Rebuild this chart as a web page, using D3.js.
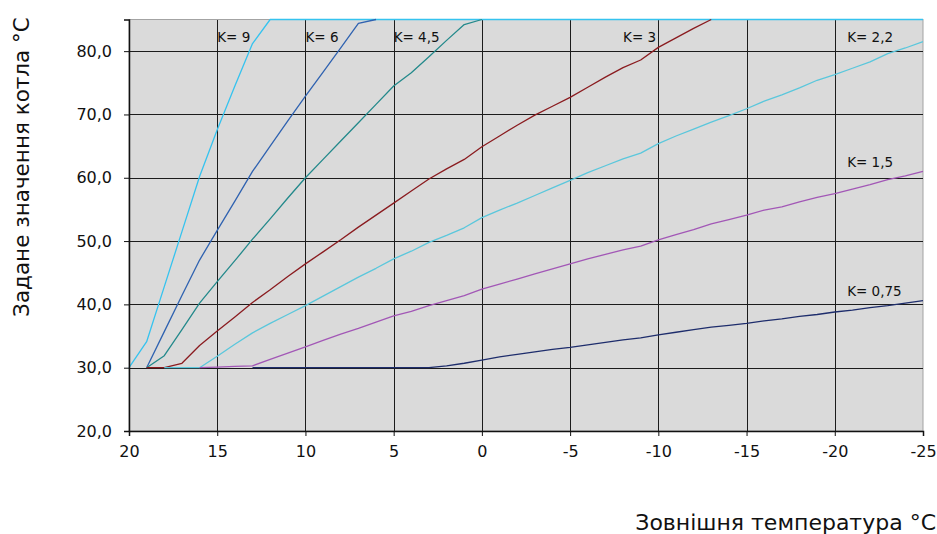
<!DOCTYPE html>
<html><head><meta charset="utf-8">
<script src="https://cdn.jsdelivr.net/npm/d3@7"></script>
<style>
html,body{margin:0;padding:0;background:#fff;}
svg{display:block;}
</style></head>
<body>
<svg id="c" width="937" height="534"></svg>
<script>
// Outdoor temperature (x) values, one per degree
const temps = d3.range(20, -26, -1); // 20 .. -25

// Series values (null = not drawn at that temperature)
const k9   = [30,34.1,42.8,51.5,60.2,67.6,74.5,81.2,85,85,85,85,85,85,85,85,85,85,85,85,85,85,85,85,85,85,85,85,85,85,85,85,85,85,85,85,85,85,85,85,85,85,85,85,85,85];
const k6   = [null,30,35.7,41.4,47,51.7,56.3,61,65,69,72.9,76.7,80.5,84.4,85];
const k45  = [null,30,31.9,36.0,40.2,43.6,46.9,50.3,53.5,56.8,60,62.9,65.8,68.7,71.6,74.5,76.6,79.1,81.7,84.2,85];
const k3   = [null,30,30,30.7,33.5,35.8,38.0,40.3,42.3,44.4,46.4,48.3,50.2,52.2,54.1,56.0,57.9,59.8,61.4,62.9,64.9,66.6,68.3,69.9,71.3,72.7,74.3,75.9,77.4,78.6,80.6,82.1,83.6,85];
const k22  = [null,null,30,30,30,31.8,33.7,35.5,37.0,38.4,39.8,41.3,42.8,44.3,45.7,47.2,48.4,49.8,50.9,52.1,53.7,54.9,56.0,57.2,58.4,59.6,60.8,61.9,63.0,63.9,65.4,66.6,67.7,68.8,69.8,70.9,72.1,73.1,74.2,75.4,76.3,77.3,78.3,79.6,80.5,81.5];
const k15  = [null,null,null,null,30,30.1,30.2,30.3,31.3,32.3,33.3,34.3,35.3,36.2,37.2,38.2,38.9,39.8,40.6,41.4,42.4,43.2,44.0,44.8,45.6,46.4,47.2,47.9,48.6,49.2,50.2,51.0,51.8,52.7,53.4,54.1,54.9,55.4,56.2,56.9,57.5,58.2,58.9,59.7,60.3,61.0];
const k075 = [null,null,null,null,null,null,null,30,30,30,30,30,30,30,30,30,30,30,30.3,30.7,31.2,31.7,32.1,32.5,32.9,33.2,33.6,34.0,34.4,34.7,35.2,35.6,36.0,36.4,36.7,37.0,37.4,37.7,38.1,38.4,38.8,39.1,39.5,39.8,40.2,40.6];

const seriesNames = ["K= 9","K= 6","K= 4,5","K= 3","K= 2,2","K= 1,5","K= 0,75"];
const seriesValues = [k9,k6,k45,k3,k22,k15,k075];
const seriesColors = ["#35c3ef","#2f62b0","#23898b","#8a1b1f","#5ac7dc","#a257b6","#1e2d6c"];

// Label anchors in data units (temperature, setpoint)
const labelTemps = [15,10,5,-8,-20.7,-20.7,-20.7];
const labelVals  = [81.4,81.4,81.4,81.4,81.4,61.7,41.3];

const xTicks = [20,15,10,5,0,-5,-10,-15,-20,-25];
const yTicks = [20,30,40,50,60,70,80];
const xTitle = "Зовнішня температура °С";
const yTitle = "Задане значення котла °С";

const svg = d3.select("#c");
const L = 129, R = 923, T = 19.5, B = 431;
const x = d3.scaleLinear().domain([20,-25]).range([L,R]);
const y = d3.scaleLinear().domain([20,85]).range([B,T]);

// plot background
svg.append("rect").attr("x",L).attr("y",T).attr("width",R-L).attr("height",B-T)
  .attr("fill","#dadada").attr("stroke","#a3a3a3").attr("stroke-width",1);

// grid
const g = svg.append("g").attr("shape-rendering","crispEdges");
g.selectAll("line.v").data(xTicks.slice(1,-1)).join("line")
  .attr("x1",d=>Math.round(x(d))+0.5).attr("x2",d=>Math.round(x(d))+0.5)
  .attr("y1",T).attr("y2",B).attr("stroke","#1c1c1c").attr("stroke-width",1);
g.selectAll("line.h").data(yTicks.slice(1)).join("line")
  .attr("y1",d=>Math.round(y(d))+0.5).attr("y2",d=>Math.round(y(d))+0.5)
  .attr("x1",L).attr("x2",R).attr("stroke","#1c1c1c").attr("stroke-width",1);

// lines
const line = d3.line().defined(d=>d[1]!=null).x(d=>x(d[0])).y(d=>y(d[1]));
seriesValues.forEach((vals,i)=>{
  svg.append("path").datum(temps.map((t,j)=>[t, j<vals.length?vals[j]:null]))
    .attr("d",line).attr("fill","none").attr("stroke",seriesColors[i]).attr("stroke-width",1.3)
    .attr("stroke-linejoin","round");
});

// labels
svg.selectAll("text.k").data(seriesNames).join("text")
  .attr("x",(d,i)=>x(labelTemps[i])).attr("y",(d,i)=>y(labelVals[i]))
  .attr("font-family","DejaVu Sans").attr("font-size",13.5).attr("fill","#111").text(d=>d);

const fmt = v => d3.format(".1f")(v).replace(".",",");
const xfmt = v => String(v); // plain hyphen minus
const tickFont = "DejaVu Sans";

// Y axis
const yAx = svg.append("g").attr("transform",`translate(${L},0)`);
yAx.call(d3.axisLeft(y).tickValues(d3.range(20,86,2)).tickSize(4).tickFormat(""));
yAx.call(d3.axisLeft(y).tickValues(yTicks).tickSize(5).tickPadding(12).tickFormat(fmt));
yAx.selectAll("path").attr("stroke","#111").attr("stroke-width",1.5);
yAx.selectAll("line").attr("stroke","#111");
yAx.selectAll("text").attr("font-family",tickFont).attr("font-size",16).attr("fill","#111");

// X axis
const xAx = svg.append("g").attr("transform",`translate(0,${B})`);
xAx.call(d3.axisBottom(x).tickValues(d3.range(20,-26,-1)).tickSize(-4).tickFormat(""));
xAx.call(d3.axisBottom(x).tickValues(xTicks).tickSize(5).tickPadding(10).tickFormat(xfmt));
xAx.selectAll("path").attr("stroke","#111").attr("stroke-width",1.5);
xAx.selectAll("line").attr("stroke","#111");
xAx.selectAll("text").attr("font-family",tickFont).attr("font-size",16).attr("fill","#111");

// titles
svg.append("text").attr("x",936).attr("y",530).attr("text-anchor","end")
  .attr("font-family","DejaVu Sans").attr("font-size",22).attr("fill","#111").text(xTitle);
svg.append("text").attr("transform","translate(29,167) rotate(-90)").attr("text-anchor","middle")
  .attr("font-family","DejaVu Sans").attr("font-size",21.5).attr("fill","#111").text(yTitle);
</script>
</body></html>
